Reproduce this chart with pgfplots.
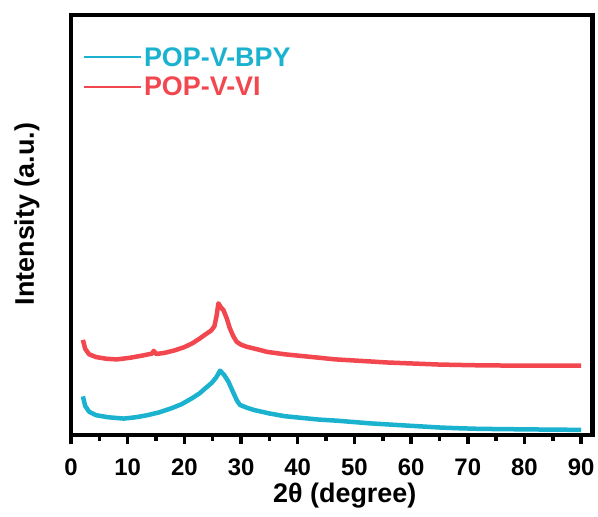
\documentclass[border=0pt]{standalone}
\usepackage{pgfplots}
\pgfplotsset{compat=1.18}
\usepackage{fontspec}
\setmainfont{Liberation Sans}
\definecolor{cblue}{HTML}{1AB2CE}
\definecolor{cred}{HTML}{F2474F}
\begin{document}
\begin{tikzpicture}
\useasboundingbox (-71bp,-82bp) rectangle (527bp,435bp);
\begin{axis}[
  at={(0,0)}, anchor=south west,
  scale only axis, width=521.5bp, height=420bp,
  xmin=0, xmax=92, ymin=0, ymax=1228,
  line width=4.5bp,
  ytick=\empty,
  xtick={0,10,...,90},
  minor x tick num=1,
  xtick pos=bottom,
  tick align=outside,
  major tick length=9bp, minor tick length=5.5bp,
  tick style={line width=3.5bp, black},
  /pgf/number format/assume math mode=true,
  xticklabel style={font=\bfseries\fontsize{24}{24}\selectfont, anchor=center, yshift=-23bp},
  xlabel={2θ (degree)},
  xlabel style={font=\bfseries\fontsize{27}{27}\selectfont, at={(axis description cs:0.525,-0.145)}, anchor=center},
  ylabel={Intensity (a.u.)},
  ylabel style={font=\bfseries\fontsize{27}{27}\selectfont, at={(axis description cs:-0.0844,0.526)}, anchor=center},
  legend style={at={(axis description cs:0,1)}, anchor=north west, xshift=7bp, yshift=-26bp, draw=none, fill=none,
    font=\bfseries\fontsize{27}{27}\selectfont, row sep=5bp},
  legend cell align=left,
  legend image post style={line width=1.8bp},
  legend image code/.code={\draw[#1, line width=1.8bp] (0bp,0bp) -- (48bp,0bp); \path (0bp,0bp) -- (57bp,0bp);},
]
\addplot[cblue, line width=4.5bp, line join=round] coordinates {
(2.1,113) (2.5,85) (3.2,68) (4.4,58) (6.5,52) (9.3,48) (11.5,52) (13.5,58) (15.5,66) (17.7,78) (19.5,90) (21.4,108) (22.7,122) (23.8,138) (24.8,152) (25.6,168) (26.3,188) (27.0,176) (27.8,155) (28.6,125) (29.3,100) (29.8,88) (31,80) (32.3,73) (35,63) (37.7,55) (40.7,50) (43.8,45) (46.8,42) (49.8,38) (52.8,34) (55.8,31) (58.8,28) (61.9,25) (64.9,22) (67.9,20) (72,18) (77,17) (83,16) (90,15)
};
\addlegendentry{\textcolor{cblue}{POP-V-BPY}}
\addplot[cred, line width=4.5bp, line join=round] coordinates {
(2.1,278) (2.5,252) (3.2,236) (4.4,228) (6.2,223) (8.1,221) (10.5,226) (12.5,232) (14.3,238) (14.6,246) (15,237) (16.5,240) (18.4,248) (20,257) (21.4,268) (22.7,282) (23.8,295) (24.7,305) (25.3,318) (25.7,350) (26.0,385) (26.5,372) (26.9,365) (27.5,340) (28,313) (28.6,290) (29.2,273) (30,264) (31,258) (33,250) (34.6,243) (37.7,236) (40.7,231) (43.7,226) (46.7,221) (49.8,218) (52.8,215) (55.8,212) (58.8,210) (61.9,208) (64.9,206) (70.9,204) (77,203) (83,203) (90,203)
};
\addlegendentry{\textcolor{cred}{POP-V-VI}}
\end{axis}
\end{tikzpicture}
\end{document}
